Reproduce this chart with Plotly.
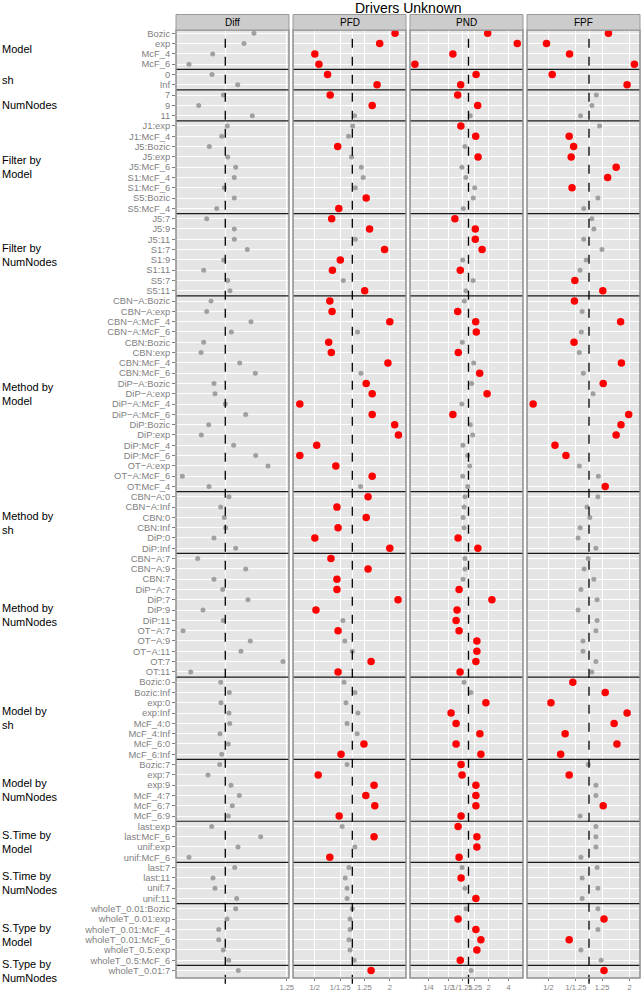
import plotly.graph_objects as go

# row labels (top to bottom)
labels = [
    "Bozic", "exp", "McF_4", "McF_6",
    "0", "Inf",
    "7", "9", "11",
    "J1:exp", "J1:McF_4", "J5:Bozic", "J5:exp", "J5:McF_6", "S1:McF_4", "S1:McF_6", "S5:Bozic", "S5:McF_4",
    "J5:7", "J5:9", "J5:11", "S1:7", "S1:9", "S1:11", "S5:7", "S5:11",
    "CBN−A:Bozic", "CBN−A:exp", "CBN−A:McF_4", "CBN−A:McF_6", "CBN:Bozic", "CBN:exp", "CBN:McF_4", "CBN:McF_6",
    "DiP−A:Bozic", "DiP−A:exp", "DiP−A:McF_4", "DiP−A:McF_6", "DiP:Bozic", "DiP:exp", "DiP:McF_4", "DiP:McF_6",
    "OT−A:exp", "OT−A:McF_6", "OT:McF_4",
    "CBN−A:0", "CBN−A:Inf", "CBN:0", "CBN:Inf", "DiP:0", "DiP:Inf",
    "CBN−A:7", "CBN−A:9", "CBN:7", "DiP−A:7", "DiP:7", "DiP:9", "DiP:11", "OT−A:7", "OT−A:9", "OT−A:11", "OT:7", "OT:11",
    "Bozic:0", "Bozic:Inf", "exp:0", "exp:Inf", "McF_4:0", "McF_4:Inf", "McF_6:0", "McF_6:Inf",
    "Bozic:7", "exp:7", "exp:9", "McF_4:7", "McF_6:7", "McF_6:9",
    "last:exp", "last:McF_6", "unif:exp", "unif:McF_6",
    "last:7", "last:11", "unif:7", "unif:11",
    "wholeT_0.01:Bozic", "wholeT_0.01:exp", "wholeT_0.01:McF_4", "wholeT_0.01:McF_6", "wholeT_0.5:exp", "wholeT_0.5:McF_6",
    "wholeT_0.01:7",
]

groups = ["Model", "sh", "NumNodes", "Filter by<br>Model", "Filter by<br>NumNodes", "Method by<br>Model",
          "Method by<br>sh", "Method by<br>NumNodes", "Model by<br>sh", "Model by<br>NumNodes",
          "S.Time by<br>Model", "S.Time by<br>NumNodes", "S.Type by<br>Model", "S.Type by<br>NumNodes"]
group_sizes = [4, 2, 3, 9, 8, 19, 6, 12, 8, 6, 4, 4, 6, 1]

panels = ["Diff", "PFD", "PND", "FPF"]

# Diff (arbitrary units)
diff = [0.287, 0.187, -0.126, -0.363, -0.133, 0.124, -0.02, -0.266, 0.27,
        0.02, -0.036, -0.16, 0.024, 0.104, 0.09, -0.01, 0.09, -0.086,
        -0.186, 0.09, 0.09, 0.22, -0.016, -0.216, 0.024, 0.047,
        -0.143, -0.186, 0.257, 0.06, -0.216, -0.243, 0.144, 0.30,
        -0.113, -0.103, 0.0, 0.204, -0.166, -0.24, 0.084, 0.304, 0.427, -0.43, -0.163,
        0.037, -0.046, -0.01, 0.004, -0.113, 0.104,
        -0.276, 0.204, -0.113, -0.026, 0.227, -0.223, -0.02, -0.423, 0.25, 0.157, 0.577, -0.346,
        -0.046, 0.04, -0.043, 0.037, 0.044, -0.053, 0.03, -0.036,
        -0.056, -0.173, 0.057, 0.14, 0.07, 0.03,
        -0.136, 0.354, 0.127, -0.363,
        0.094, -0.123, -0.103, 0.114,
        0.104, 0.017, -0.066, -0.066, -0.02, 0.034, 0.13]

# log2 ratios
pfd = [1.14, 0.73, -1.0, -0.89, -0.66, 0.66, -0.59, 0.53, 0.06,
       0.01, -0.10, -0.39, -0.02, 0.24, 0.29, 0.08, 0.37, -0.36,
       -0.55, 0.46, 0.08, 0.86, -0.32, -0.53, -0.24, 0.33,
       -0.60, -0.54, 1.0, 0.14, -0.63, -0.56, 0.95, 0.23,
       0.37, 0.53, -1.40, 0.53, 1.13, 1.23, -0.95, -1.40, -0.44, 0.53, 0.22,
       0.42, -0.41, 0.37, -0.38, -1.0, 1.0,
       -0.57, 0.42, -0.41, -0.41, 1.22, -0.97, -0.25, -0.38, -0.20, 0.0, 0.50, -0.38,
       -0.22, 0.07, -0.17, 0.15, -0.14, 0.13, 0.31, -0.30,
       -0.14, -0.91, 0.58, 0.36, 0.60, -0.35,
       -0.27, 0.58, 0.07, -0.60,
       -0.09, -0.19, -0.14, -0.14,
       0.0, -0.06, -0.06, -0.09, -0.06, 0.05, 0.50]
pfd_sig = [1, 1, 1, 1, 1, 1, 1, 1, 0,
           0, 0, 1, 0, 0, 0, 0, 1, 1,
           1, 1, 0, 1, 1, 1, 0, 1,
           1, 1, 1, 0, 1, 1, 1, 0,
           1, 1, 1, 1, 1, 1, 1, 1, 1, 1, 0,
           1, 1, 1, 1, 1, 1,
           1, 1, 1, 1, 1, 1, 0, 1, 0, 0, 1, 1,
           0, 0, 0, 0, 0, 0, 1, 1,
           0, 1, 1, 1, 1, 1,
           0, 1, 0, 1,
           0, 0, 0, 0,
           0, 0, 0, 0, 0, 0, 1]

pnd = [0.96, 2.44, -0.78, -2.68, 0.38, -0.39, -0.54, 0.46, 0.09,
       -0.38, 0.36, -0.18, 0.48, -0.33, -0.13, 0.31, 0.24, -0.26,
       -0.68, 0.34, 0.34, 0.68, -0.29, -0.41, 0.23, -0.13,
       -0.21, -0.54, 0.36, 0.39, -0.31, -0.51, 0.26, 0.56,
       0.16, 0.93, -0.33, -0.78, 0.09, 0.21, -0.28, -0.04, 0.06, -0.29, -0.04,
       -0.18, -0.22, -0.27, -0.22, -0.52, 0.47,
       -0.18, -0.18, -0.27, -0.47, 1.17, -0.57, -0.62, -0.47, 0.42, 0.42, 0.37, -0.42,
       -0.22, 0.12, 0.87, -0.87, -0.62, 0.57, -0.62, 0.62,
       -0.37, -0.32, 0.37, 0.37, 0.37, -0.37,
       -0.52, 0.42, 0.42, -0.47,
       -0.32, -0.37, -0.18, 0.37,
       -0.12, -0.52, 0.37, 0.62, 0.42, -0.41, 0.13]
pnd_sig = [1, 1, 1, 1, 1, 1, 1, 1, 0,
           1, 1, 0, 1, 0, 0, 0, 0, 0,
           1, 1, 1, 1, 0, 1, 0, 0,
           0, 1, 1, 1, 0, 1, 0, 1,
           0, 1, 0, 1, 0, 0, 0, 0, 0, 0, 0,
           0, 0, 0, 0, 1, 1,
           0, 0, 0, 1, 1, 1, 1, 1, 1, 1, 1, 1,
           0, 0, 1, 1, 1, 1, 1, 1,
           1, 1, 1, 1, 1, 1,
           1, 1, 1, 1,
           0, 1, 0, 1,
           0, 1, 1, 1, 1, 1, 0]

fpf = [0.48, -1.05, -0.48, 1.12, -0.91, 0.94, 0.18, 0.07, -0.21,
       0.26, -0.49, -0.38, -0.44, 0.67, 0.46, -0.42, 0.22, -0.13,
       0.07, 0.12, -0.13, 0.32, -0.07, -0.22, -0.35, 0.34,
       -0.36, -0.17, 0.78, -0.19, -0.37, -0.24, 0.80, -0.14,
       0.35, 0.10, -1.38, 0.98, 0.79, 0.67, -0.84, -0.57, -0.24, 0.23, 0.40,
       0.22, -0.05, 0.02, -0.22, -0.27, 0.17,
       -0.02, -0.12, 0.12, -0.20, 0.20, -0.27, 0.20, 0.17, -0.15, -0.15, 0.17, 0.07,
       -0.40, 0.40, -0.94, 0.94, 0.62, -0.59, 0.69, -0.70,
       -0.02, -0.49, 0.17, 0.17, 0.35, -0.22,
       0.17, 0.17, 0.17, -0.20,
       0.20, -0.17, 0.22, -0.17,
       0.22, 0.37, 0.22, -0.49, -0.20, 0.30, 0.37]
fpf_sig = [1, 1, 1, 1, 1, 1, 0, 0, 0,
           0, 1, 1, 1, 1, 1, 1, 0, 0,
           0, 0, 0, 0, 0, 0, 1, 1,
           1, 0, 1, 0, 1, 0, 1, 0,
           1, 0, 1, 1, 1, 1, 1, 1, 0, 0, 1,
           0, 0, 0, 0, 0, 0,
           0, 0, 0, 0, 0, 0, 0, 0, 0, 0, 0, 0,
           1, 1, 1, 1, 1, 1, 1, 1,
           0, 1, 0, 0, 1, 0,
           0, 0, 0, 0,
           0, 0, 0, 0,
           0, 1, 0, 1, 0, 0, 1]

values = [diff, pfd, pnd, fpf]
sigs = [[0] * len(diff), pfd_sig, pnd_sig, fpf_sig]

# axis settings per panel
x_ranges = [[-0.493, 0.637], [-1.581, 1.432], [-2.925, 2.725], [-1.531, 1.259]]
x_domains = [[0, 0.2435], [0.2522, 0.4957], [0.5043, 0.7478], [0.7565, 1.0]]
r = 0.3219
ratio_vals = [-1, -r, 0, r, 1]
ratio_text = ["1/2", "1/1.25", "", "1.25", "2"]
tick_vals = [[0, 0.614], ratio_vals, [-2] + ratio_vals + [2], ratio_vals]
tick_text = [["", "1.25"], ratio_text, ["1/4"] + ratio_text + ["4"], ratio_text]

FONT = "Liberation Sans, Arial, Helvetica, sans-serif"
GREY_TXT = "#7f7f7f"

fig = go.Figure()
for k in range(4):
    xa = "x" if k == 0 else "x%d" % (k + 1)
    v = values[k]
    s = sigs[k]
    gx = [v[i] for i in range(len(v)) if not s[i]]
    gy = [labels[i] for i in range(len(v)) if not s[i]]
    rx = [v[i] for i in range(len(v)) if s[i]]
    ry = [labels[i] for i in range(len(v)) if s[i]]
    fig.add_trace(go.Scatter(x=gx, y=gy, mode="markers", xaxis=xa, yaxis="y",
                             marker=dict(color="#a0a0a0", size=5), showlegend=False))
    fig.add_trace(go.Scatter(x=rx, y=ry, mode="markers", xaxis=xa, yaxis="y",
                             marker=dict(color="#ff0000", size=7.5), showlegend=False))

layout = dict(
    width=641, height=992,
    margin=dict(l=176, r=1, t=30, b=14, autoexpand=False),
    plot_bgcolor="#e5e5e5", paper_bgcolor="white",
    font=dict(family=FONT),
    showlegend=False,
    yaxis=dict(
        type="category", categoryorder="array", categoryarray=labels,
        range=[91.72, -0.32], anchor="x", automargin=False,
        tickmode="linear", tick0=0, dtick=1,
        showgrid=True, gridcolor="white", gridwidth=1,
        ticks="outside", ticklen=3, tickcolor=GREY_TXT,
        tickfont=dict(size=9.4, color=GREY_TXT), zeroline=False,
    ),
)
for k in range(4):
    key = "xaxis" if k == 0 else "xaxis%d" % (k + 1)
    layout[key] = dict(
        domain=x_domains[k], range=x_ranges[k], anchor="y", automargin=False,
        tickmode="array", tickvals=tick_vals[k], ticktext=tick_text[k], tickangle=0,
        showgrid=True, gridcolor="white", gridwidth=1, zeroline=False,
        ticks="outside", ticklen=2, tickcolor=GREY_TXT,
        tickfont=dict(size=7.5, color=GREY_TXT),
    )
fig.update_layout(**layout)

# group separators
bounds = []
c = 0
for n in group_sizes[:-1]:
    c += n
    bounds.append(c - 0.5)

plot_h = 992 - 30 - 14
shapes = []
annotations = []
for k in range(4):
    xd = ("x" if k == 0 else "x%d" % (k + 1)) + " domain"
    xr = "x" if k == 0 else "x%d" % (k + 1)
    for b in bounds:
        shapes.append(dict(type="line", xref=xd, x0=0, x1=1, yref="y", y0=b, y1=b,
                           line=dict(color="#1a1a1a", width=1.2)))
    shapes.append(dict(type="line", xref=xr, x0=0, x1=0, yref="paper", y0=-0.006, y1=1,
                       line=dict(color="black", width=1.3, dash="dash")))
    shapes.append(dict(type="rect", xref=xd, x0=0, x1=1, yref="paper", y0=0, y1=1,
                       line=dict(color="#8f8f8f", width=1.5)))
    shapes.append(dict(type="rect", xref=xd, x0=0, x1=1, yref="paper", y0=1.0,
                       y1=1 + 15.5 / plot_h, fillcolor="#cccccc", line=dict(color="#9a9a9a", width=1)))
    annotations.append(dict(text=panels[k], xref=xd, x=0.5, yref="paper", y=1 + 8 / plot_h,
                            showarrow=False, yanchor="middle", font=dict(size=10, color="black")))

# row group labels
c = 0
for name, n in zip(groups, group_sizes):
    annotations.append(dict(text=name, xref="paper", x=-176 / 464, xanchor="left", align="left",
                            yref="y", y=c + (n - 1) / 2, yanchor="middle", showarrow=False,
                            font=dict(size=11, color="black")))
    c += n

annotations.append(dict(text="Drivers Unknown", xref="paper", x=0.5, yref="paper",
                        y=1 + 22.5 / plot_h, yanchor="middle", showarrow=False,
                        font=dict(size=14, color="black")))

fig.update_layout(shapes=shapes, annotations=annotations)
# the page's default body margin would push the figure 8px down/right
fig.write_html("out.html", config={"displayModeBar": False},
               post_script="document.body.style.margin='0px';")
